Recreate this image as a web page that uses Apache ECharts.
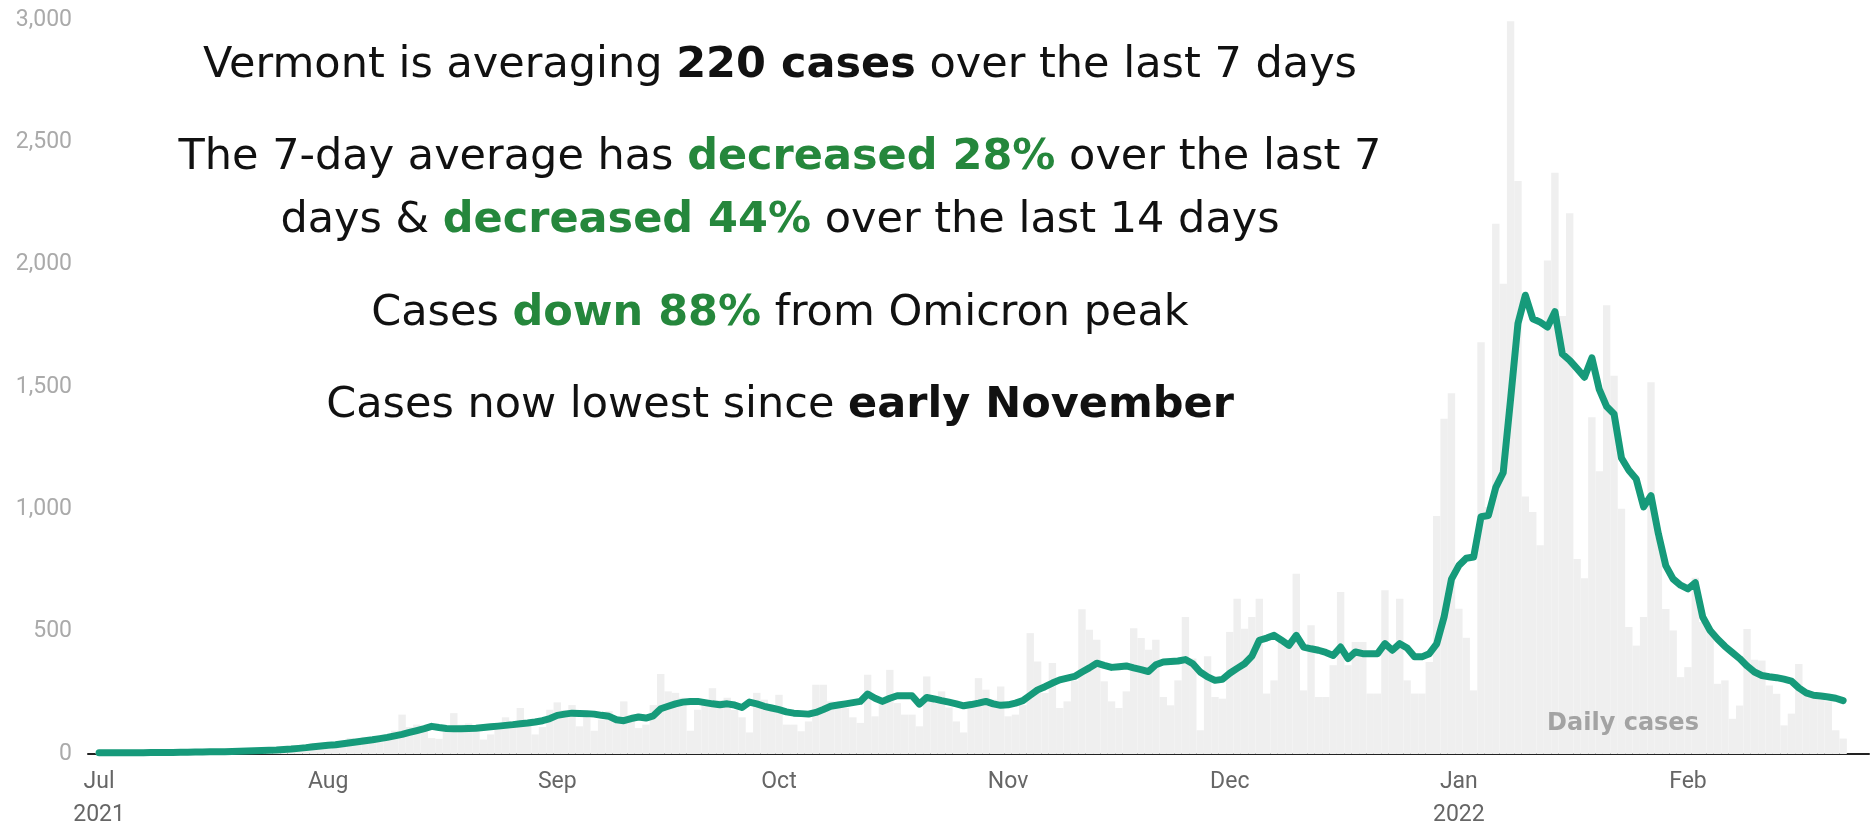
<!DOCTYPE html>
<html>
<head>
<meta charset="utf-8">
<script src="https://cdn.jsdelivr.net/npm/echarts@6/dist/echarts.min.js"></script>
<style>
  html, body { margin: 0; padding: 0; background: #ffffff; }
  #chart { width: 1874px; height: 832px; }
</style>
</head>
<body>
<div id="chart"></div>
<script>
// Daily cases per month (Jul 1 2021 - Feb 22 2022)
const casesJul = [3,7,4,2,2,6,9,7,10,5,3,4,11,9,13,12,8,4,10,16,19,17,22,14,8,18,30,33,38,45,30];
const casesAug = [20,25,50,65,60,70,55,48,60,95,161,110,120,105,65,62,90,167,120,125,110,59,80,115,150,135,188,130,80,110,181];
const casesSep = [211,180,200,113,150,95,140,175,150,215,160,106,120,200,327,256,250,230,95,181,210,269,220,230,180,150,88,250,222,180];
const casesOct = [242,120,120,93,133,283,283,215,188,188,150,127,324,154,222,344,208,161,161,113,317,229,256,190,133,88,200,310,263,222,276];
const casesNov = [154,161,200,494,378,249,372,188,215,300,592,508,467,297,215,188,256,514,474,426,467,233,199,301,560,390,97,400,233,226];
const casesDec = [499,635,512,560,635,247,301,458,465,737,260,526,233,233,363,662,363,458,458,247,247,669,437,635,301,247,247,376,973,1370,1474];
const casesJan = [594,475,260,1683,1010,2167,1922,2995,2342,1052,989,853,2017,2376,1790,2210,797,718,1376,1156,1834,1546,1002,519,443,560,1519,886,593,505,314];
const casesFeb = [355,720,539,501,287,301,144,198,511,385,382,280,246,117,165,368,260,230,250,215,97,63];

// 7-day average per month
const avgJul = [5,5,5,5,5,5,5,6,6,6,6,7,7,8,8,9,9,9,10,11,12,13,14,15,16,18,20,23,26,30,33];
const avgAug = [36,38,42,46,50,54,58,63,68,74,80,88,96,104,113,108,104,103,103,104,105,108,111,114,117,120,124,127,131,136,145];
const avgSep = [158,163,167,166,165,163,158,154,140,136,145,151,147,156,185,195,205,212,215,215,210,205,201,205,200,190,212,205,195,188];
const avgOct = [181,172,167,165,163,170,182,195,200,205,210,215,245,228,215,228,238,238,238,204,231,225,218,212,205,197,202,208,215,205,199];
const avgNov = [201,208,218,240,262,275,290,303,310,317,335,352,371,362,354,357,360,352,345,337,365,376,378,380,386,369,335,315,301,305];
const avgDec = [330,350,369,400,465,474,485,465,444,485,437,430,424,415,403,437,390,417,410,410,410,451,424,451,433,397,397,410,450,560,715];
const avgJan = [770,800,805,970,975,1090,1150,1450,1760,1875,1779,1765,1745,1808,1635,1609,1575,1540,1619,1490,1420,1390,1210,1160,1124,1010,1056,900,770,715,690];
const avgFeb = [675,700,560,505,470,440,415,390,360,335,321,316,312,306,298,270,250,240,237,233,228,218];

const monthNames = ['Jan','Feb','Mar','Apr','May','Jun','Jul','Aug','Sep','Oct','Nov','Dec'];
const yTicks = [0, 500, 1000, 1500, 2000, 2500, 3000];
const startDate = '2021-07-01';
const padBefore = 1, padAfter = 3;

const dailyCases = [].concat(casesJul, casesAug, casesSep, casesOct, casesNov, casesDec, casesJan, casesFeb);
const sevenDayAvg = [].concat(avgJul, avgAug, avgSep, avgOct, avgNov, avgDec, avgJan, avgFeb);

// categories: one per day
function fmt(d) {
  const m = d.getUTCMonth() + 1, dd = d.getUTCDate();
  return d.getUTCFullYear() + '-' + (m < 10 ? '0' + m : m) + '-' + (dd < 10 ? '0' + dd : dd);
}
const categories = [];
const base = new Date(startDate + 'T00:00:00Z');
for (let i = -padBefore; i < dailyCases.length + padAfter; i++) {
  categories.push(fmt(new Date(base.getTime() + i * 86400000)));
}
const pad = (arr) => Array(padBefore).fill(null).concat(arr, Array(padAfter).fill(null));

const GREEN = '#25873c';
const chart = echarts.init(document.getElementById('chart'), null, { renderer: 'canvas' });

const headFont = '"DejaVu Sans", sans-serif';
const headSize = 43;
const rich = {
  n: { fontFamily: headFont, fontSize: headSize, fill: '#111111', fontWeight: 'normal' },
  b: { fontFamily: headFont, fontSize: headSize, fill: '#111111', fontWeight: 'bold' },
  g: { fontFamily: headFont, fontSize: headSize, fill: GREEN, fontWeight: 'bold' }
};
function headline(text, y) {
  return {
    type: 'text', z: 100,
    x: 780, y: y,
    style: { text: text, rich: rich, align: 'center', verticalAlign: 'middle',
             fontFamily: headFont, fontSize: headSize, fill: '#111111' }
  };
}

chart.setOption({
  animation: false,
  backgroundColor: '#ffffff',
  grid: { left: 88, right: 5, top: 20, bottom: 76.5, containLabel: false },
  xAxis: {
    type: 'category',
    data: categories,
    boundaryGap: true,
    axisLine: { show: true, lineStyle: { color: '#222', width: 2 } },
    axisTick: { show: false },
    splitLine: { show: false },
    axisLabel: {
      interval: function (idx, val) { return val.slice(8) === '01'; },
      formatter: function (val) {
        const y = val.slice(0, 4), m = parseInt(val.slice(5, 7), 10);
        let s = monthNames[m - 1];
        if (val === startDate || m === 1) s += '\n' + y;
        return s;
      },
      color: '#666', fontFamily: 'Roboto', fontSize: 23, lineHeight: 33, margin: 12
    }
  },
  yAxis: {
    type: 'value', min: 0, max: 3000, interval: 500,
    axisLine: { show: false }, axisTick: { show: false },
    splitLine: { show: false },
    axisLabel: {
      formatter: function (v) { return yTicks.indexOf(v) >= 0 ? v.toLocaleString('en-US') : ''; },
      color: '#aaa', fontFamily: 'Roboto', fontSize: 23, margin: 16
    }
  },
  series: [
    {
      name: 'Daily cases', type: 'bar', data: pad(dailyCases),
      barCategoryGap: '0%', itemStyle: { color: '#efefef' }, silent: true
    },
    {
      name: '7-day average', type: 'line', data: pad(sevenDayAvg),
      showSymbol: false, smooth: false,
      lineStyle: { color: '#169a7a', width: 7, cap: 'round', join: 'round' },
      z: 5
    }
  ],
  graphic: [
    headline('{n|Vermont is averaging }{b|220 cases}{n| over the last 7 days}', 66),
    headline('{n|The 7-day average has }{g|decreased 28%}{n| over the last 7}', 158),
    headline('{n|days & }{g|decreased 44%}{n| over the last 14 days}', 221),
    headline('{n|Cases }{g|down 88%}{n| from Omicron peak}', 314),
    headline('{n|Cases now lowest since }{b|early November}', 406),
    {
      type: 'text', x: 1623, y: 724, z: 100,
      style: { text: 'Daily cases', fontFamily: headFont, fontWeight: 'bold', fontSize: 24, fill: '#a3a3a3', align: 'center', verticalAlign: 'middle' }
    }
  ]
});
</script>
</body>
</html>
